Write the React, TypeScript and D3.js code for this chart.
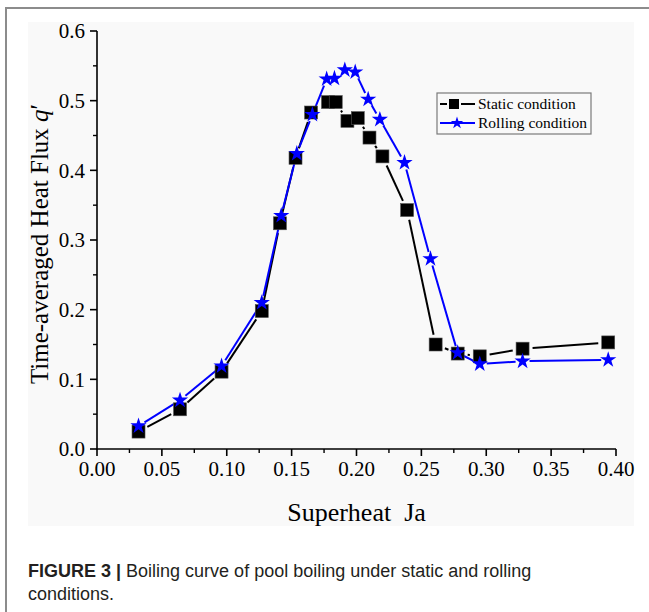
import React from "react";
import * as d3 from "d3";

// Superheat (Jakob number) sampled for both runs
const staticJa = [0.032, 0.064, 0.096, 0.127, 0.141, 0.153, 0.165, 0.178, 0.184, 0.193, 0.201, 0.210, 0.220, 0.239, 0.261, 0.278, 0.295, 0.328, 0.394];
const staticQ = [0.025, 0.057, 0.111, 0.198, 0.324, 0.418, 0.483, 0.498, 0.498, 0.471, 0.475, 0.447, 0.420, 0.343, 0.150, 0.137, 0.133, 0.144, 0.153];

const rollingJa = [0.032, 0.064, 0.096, 0.127, 0.142, 0.154, 0.166, 0.177, 0.183, 0.191, 0.199, 0.209, 0.218, 0.237, 0.257, 0.278, 0.295, 0.328, 0.394];
const rollingQ = [0.033, 0.070, 0.119, 0.210, 0.335, 0.424, 0.480, 0.531, 0.532, 0.544, 0.541, 0.502, 0.473, 0.411, 0.273, 0.138, 0.122, 0.126, 0.128];

const xTicks = [0, 0.05, 0.1, 0.15, 0.2, 0.25, 0.3, 0.35, 0.4];
const yTicks = [0, 0.1, 0.2, 0.3, 0.4, 0.5, 0.6];
const xMinor = [0.025, 0.075, 0.125, 0.175, 0.225, 0.275, 0.325, 0.375];
const yMinor = [0.05, 0.15, 0.25, 0.35, 0.45, 0.55];

const legendItems = ["Static condition", "Rolling condition"];

const SERIF = "'Liberation Serif', 'Times New Roman', serif";
const SANS = "'Liberation Sans', Arial, Helvetica, sans-serif";

type Pt = [number, number];

// Polyline drawn as separate segments, each trimmed back from both markers
function gappedSegments(pts: Pt[], gap: number): string[] {
  const out: string[] = [];
  for (let i = 0; i < pts.length - 1; i++) {
    const [x0, y0] = pts[i];
    const [x1, y1] = pts[i + 1];
    const dx = x1 - x0;
    const dy = y1 - y0;
    const len = Math.hypot(dx, dy);
    if (len <= gap * 2 + 1) continue;
    const ux = dx / len;
    const uy = dy / len;
    out.push(
      `M${x0 + ux * gap},${y0 + uy * gap}L${x1 - ux * gap},${y1 - uy * gap}`
    );
  }
  return out;
}

export default function App() {
  const x = d3.scaleLinear().domain([0, 0.4]).range([97, 616]);
  const y = d3.scaleLinear().domain([0, 0.6]).range([449, 31]);

  const staticPts: Pt[] = staticJa.map((v, i) => [x(v), y(staticQ[i])]);
  const rollingPts: Pt[] = rollingJa.map((v, i) => [x(v), y(rollingQ[i])]);

  const star = d3.symbol().type(d3.symbolStar).size(82)()!;
  const starSmall = d3.symbol().type(d3.symbolStar).size(48)()!;

  const x0 = x(0);
  const y0 = y(0);

  return (
    <svg
      width={649}
      height={612}
      style={{ position: "absolute", left: 0, top: 0, background: "#ffffff" }}
    >
      {/* page frame */}
      <line x1={5} y1={8} x2={649} y2={8} stroke="#8c8c8c" strokeWidth={2} />
      <line x1={6} y1={7} x2={6} y2={612} stroke="#8c8c8c" strokeWidth={2} />

      {/* chart panel */}
      <rect x={28} y={22} width={606} height={504} fill="#f9f9f9" />

      {/* series: static */}
      {gappedSegments(staticPts, 10).map((d, i) => (
        <path key={`sl${i}`} d={d} stroke="#000" strokeWidth={2} fill="none" />
      ))}
      {/* series: rolling */}
      {gappedSegments(rollingPts, 7).map((d, i) => (
        <path key={`rl${i}`} d={d} stroke="#0000ff" strokeWidth={2} fill="none" />
      ))}
      {staticPts.map(([px, py], i) => (
        <rect
          key={`sq${i}`}
          x={px - 6.5}
          y={py - 6.5}
          width={13}
          height={13}
          fill="#000"
          stroke="#555"
          strokeWidth={0.6}
        />
      ))}
      {rollingPts.map(([px, py], i) => (
        <path key={`st${i}`} d={star} transform={`translate(${px},${py})`} fill="#0000ff" />
      ))}

      {/* y axis */}
      <line x1={x0} y1={y(0.6)} x2={x0} y2={y0 + 0.8} stroke="#000" strokeWidth={1.6} />
      {yTicks.map((t) => (
        <g key={`yt${t}`}>
          <line x1={x0 - 7} y1={y(t)} x2={x0} y2={y(t)} stroke="#000" strokeWidth={1.6} />
          <text
            x={x0 - 12}
            y={y(t)}
            dy="0.35em"
            textAnchor="end"
            fontFamily={SERIF}
            fontSize={21}
            fill="#000"
          >
            {d3.format(".1f")(t)}
          </text>
        </g>
      ))}
      {yMinor.map((t) => (
        <line key={`ym${t}`} x1={x0 - 4} y1={y(t)} x2={x0} y2={y(t)} stroke="#000" strokeWidth={1.4} />
      ))}

      {/* x axis */}
      <line x1={x0 - 0.8} y1={y0} x2={x(0.4)} y2={y0} stroke="#000" strokeWidth={1.6} />
      {xTicks.map((t) => (
        <g key={`xt${t}`}>
          <line x1={x(t)} y1={y0} x2={x(t)} y2={y0 + 7} stroke="#000" strokeWidth={1.6} />
          <text
            x={x(t)}
            y={y0 + 27}
            textAnchor="middle"
            fontFamily={SERIF}
            fontSize={21}
            fill="#000"
          >
            {d3.format(".2f")(t)}
          </text>
        </g>
      ))}
      {xMinor.map((t) => (
        <line key={`xm${t}`} x1={x(t)} y1={y0} x2={x(t)} y2={y0 + 4} stroke="#000" strokeWidth={1.4} />
      ))}

      {/* axis titles */}
      <text
        x={(x(0) + x(0.4)) / 2}
        y={521}
        textAnchor="middle"
        fontFamily={SERIF}
        fontSize={26}
        fill="#000"
        style={{ whiteSpace: "pre" }}
      >
        {"Superheat  Ja"}
      </text>
      <text
        transform={`translate(48,${(y(0) + y(0.6)) / 2 + 4}) rotate(-90)`}
        textAnchor="middle"
        fontFamily={SERIF}
        fontSize={25}
        fill="#000"
      >
        Time-averaged Heat Flux <tspan fontStyle="italic">q</tspan>′
      </text>

      {/* legend */}
      <rect x={437} y={93} width={154} height={41} fill="none" stroke="#7a7a7a" strokeWidth={1.2} />
      <g>
        <line x1={440} y1={104} x2={447} y2={104} stroke="#000" strokeWidth={2} />
        <line x1={461} y1={104} x2={475} y2={104} stroke="#000" strokeWidth={2} />
        <rect x={449} y={99} width={10} height={10} fill="#000" />
        <text x={478} y={104} dy="0.35em" fontFamily={SERIF} fontSize={15.5} fill="#000">
          {legendItems[0]}
        </text>
      </g>
      <g>
        <line x1={440} y1={123} x2={475} y2={123} stroke="#0000ff" strokeWidth={2} />
        <path d={starSmall} transform="translate(457,123)" fill="#0000ff" />
        <text x={478} y={123} dy="0.35em" fontFamily={SERIF} fontSize={15.5} fill="#000">
          {legendItems[1]}
        </text>
      </g>

      {/* caption */}
      <text x={28} y={577} fontFamily={SANS} fontSize={18} fill="#231f20">
        <tspan fontWeight="bold">FIGURE 3 | </tspan>
        Boiling curve of pool boiling under static and rolling
      </text>
      <text x={28} y={600} fontFamily={SANS} fontSize={18} fill="#231f20">
        conditions.
      </text>
    </svg>
  );
}
